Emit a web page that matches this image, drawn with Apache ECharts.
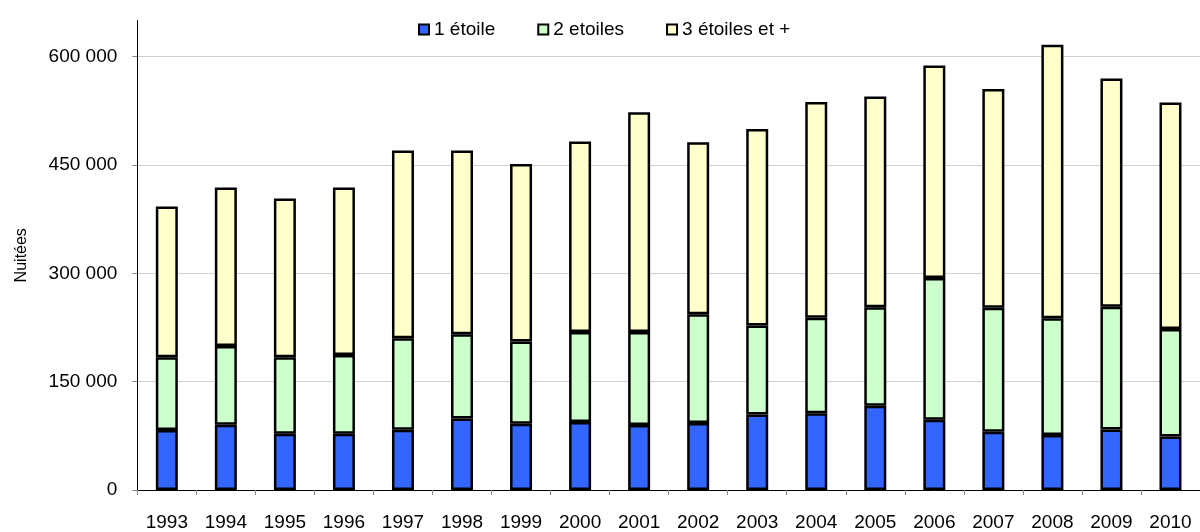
<!DOCTYPE html>
<html>
<head>
<meta charset="utf-8">
<script src="https://cdn.jsdelivr.net/npm/echarts@6/dist/echarts.min.js"></script>
<style>
html,body{margin:0;padding:0;background:#fff;}
#chart{width:1200px;height:532px;}
</style>
</head>
<body>
<div id="chart"></div>
<script>
const years = ['1993','1994','1995','1996','1997','1998','1999','2000','2001','2002','2003','2004','2005','2006','2007','2008','2009','2010'];
const oneStar = [83000, 90300, 77800, 77800, 83400, 99100, 91700, 94000, 89900, 92600, 104500, 106400, 116600, 97200, 80600, 76000, 83800, 74100];
const twoStars = [100900, 109200, 106100, 109200, 126700, 116600, 113900, 124900, 129000, 150700, 123100, 132200, 136400, 196300, 171800, 161800, 170000, 148900];
const threeStars = [208700, 219400, 219800, 231900, 260000, 254400, 245600, 263600, 304100, 238200, 272300, 298600, 291700, 294100, 302800, 378800, 315800, 313400];
const yTicks = [0, 150000, 300000, 450000, 600000];
const seriesNames = ['1 étoile', '2 etoiles', '3 étoiles et +'];
const yName = 'Nuitées';

const font = '"Liberation Sans", Arial, sans-serif';
const colors = ['#3366FF', '#CCFFCC', '#FFFFCC'];
const fmt = v => String(v).replace(/\B(?=(\d{3})+(?!\d))/g, ' ');

const chart = echarts.init(document.getElementById('chart'), null, {renderer: 'canvas'});
const mk = (name, data, i) => ({
  name: name, type: 'bar', stack: 'total', data: data, barWidth: 22,
  itemStyle: {color: colors[i], borderColor: '#000', borderWidth: 2.5},
  emphasis: {disabled: true}
});
chart.setOption({
  animation: false,
  textStyle: {fontFamily: font},
  legend: {
    left: 413, top: 15, itemWidth: 10, itemHeight: 10, itemGap: 42,
    textStyle: {fontFamily: font, fontSize: 19, color: '#000'},
    data: seriesNames.map(n => ({name: n, icon: 'rect'}))
  },
  grid: {left: 137.3, top: 20.5, width: 1070, height: 470.8, containLabel: false},
  xAxis: {
    type: 'category', data: years,
    axisLine: {lineStyle: {color: '#000', width: 1}},
    axisTick: {show: true, length: 5, lineStyle: {color: '#888'}},
    axisLabel: {fontFamily: font, fontSize: 19, color: '#000', margin: 23, interval: 0}
  },
  yAxis: {
    type: 'value', min: 0, max: 650000, interval: 150000,
    name: yName, nameLocation: 'middle', nameGap: 108, nameRotate: 90,
    nameTextStyle: {fontFamily: font, fontSize: 16, color: '#000'},
    axisLine: {show: true, lineStyle: {color: '#000', width: 1}},
    axisTick: {show: true, length: 5, lineStyle: {color: '#888'}, customValues: yTicks},
    axisLabel: {fontFamily: font, fontSize: 19, color: '#000', margin: 20, formatter: fmt, customValues: yTicks},
    splitLine: {show: true, lineStyle: {color: '#d0d0d0', width: 1}}
  },
  series: [mk(seriesNames[0], oneStar, 0), mk(seriesNames[1], twoStars, 1), mk(seriesNames[2], threeStars, 2)]
});
</script>
</body>
</html>
